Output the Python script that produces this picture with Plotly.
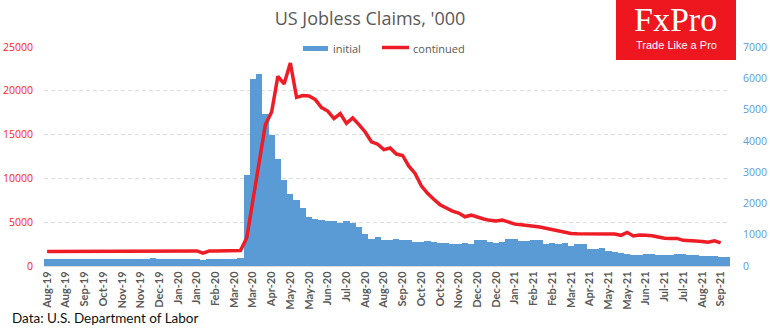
import pandas as pd
import plotly.graph_objects as go

# ---- data (thousands) ----
weeks = pd.date_range("2019-08-10", periods=110, freq="7D").strftime("%Y-%m-%d").tolist()

initial = [
    210, 210, 210, 210, 210, 210, 210, 210, 210, 210,
    210, 210, 210, 210, 210, 210, 210, 250, 210, 210,
    210, 210, 210, 210, 210, 180, 210, 210, 210, 210,
    210, 250, 2918, 5986, 6146, 4868, 4197, 3430, 2758, 2310,
    2118, 1854, 1566, 1512, 1457, 1448, 1426, 1390, 1450, 1374,
    1256, 1032, 872, 914, 840, 840, 872, 840, 840, 776,
    776, 808, 776, 744, 744, 712, 712, 744, 712, 840,
    840, 776, 744, 776, 872, 872, 808, 808, 840, 840,
    712, 750, 712, 744, 648, 712, 712, 553, 553, 585,
    485, 452, 415, 378, 355, 355, 393, 393, 361, 361,
    361, 393, 393, 361, 361, 329, 329, 329, 297, 297,
]

continued = [
    1650, 1650, 1650, 1650, 1650, 1650, 1650, 1650, 1650, 1650,
    1650, 1650, 1650, 1650, 1650, 1650, 1720, 1720, 1720, 1720,
    1720, 1720, 1720, 1720, 1720, 1480, 1720, 1720, 1720, 1720,
    1720, 1780, 3200, 7600, 12000, 16140, 17580, 21650, 20780, 23180,
    19250, 19450, 19400, 19000, 18080, 17690, 16820, 17400, 16280, 16900,
    16140, 15300, 14180, 13900, 13280, 13470, 12780, 12620, 11400, 10560,
    9150, 8300, 7620, 7000, 6620, 6260, 6050, 5620, 5800, 5550,
    5370, 5210, 5150, 5250, 4980, 4780, 4720, 4580, 4530, 4450,
    4300, 4100, 4020, 3820, 3720, 3690, 3680, 3670, 3670, 3660,
    3650, 3640, 3500, 3840, 3420, 3540, 3500, 3460, 3320, 3180,
    3150, 3150, 2930, 2850, 2850, 2800, 2720, 2880, 2630, None,
]

tick_labels = [
    "Aug-19", "Aug-19", "Sep-19", "Oct-19", "Nov-19", "Nov-19", "Dec-19",
    "Jan-20", "Jan-20", "Feb-20", "Mar-20", "Mar-20", "Apr-20", "May-20",
    "May-20", "Jun-20", "Jul-20", "Aug-20", "Aug-20", "Sep-20", "Oct-20",
    "Oct-20", "Nov-20", "Dec-20", "Dec-20", "Jan-21", "Feb-21", "Feb-21",
    "Mar-21", "Apr-21", "May-21", "May-21", "Jun-21", "Jul-21", "Jul-21",
    "Aug-21", "Sep-21",
]
tick_positions = weeks[::3]

left_ticks = [0, 5000, 10000, 15000, 20000, 25000]
right_ticks = [0, 1000, 2000, 3000, 4000, 5000, 6000, 7000]

BLUE = "#5B9BD5"
RED = "#EE1C25"
GREY = "#595959"

fig = go.Figure()
fig.add_trace(go.Bar(x=weeks, y=initial, name="initial", marker=dict(color=BLUE, line=dict(width=0)),
                     yaxis="y", showlegend=False))
fig.add_trace(go.Scatter(x=weeks, y=continued, name="continued", mode="lines",
                         line=dict(color=RED, width=3.5), yaxis="y2", showlegend=False,
                         connectgaps=False))

# grid lines at left-axis steps expressed on right axis scale
grid_vals = [v * 7000 / 25000 for v in left_ticks[1:]]

fig.update_layout(
    width=770, height=330,
    margin=dict(l=44, r=40, t=47, b=64, autoexpand=False),
    paper_bgcolor="white", plot_bgcolor="white",
    bargap=0,
    font=dict(family="Open Sans", color=GREY),
    title=dict(text="US Jobless Claims, '000", x=370 / 770, xref="container", xanchor="center",
               y=1 - 19 / 330, yref="container", yanchor="middle",
               font=dict(family="Open Sans", size=18, color=GREY)),
    xaxis=dict(type="category", tickmode="array", tickvals=tick_positions, ticktext=tick_labels,
               tickangle=-90, tickfont=dict(family="Lato", size=11, color=GREY, weight="bold"),
               showgrid=False, showline=True, linecolor="#D9D9D9", linewidth=1,
               ticks="", range=[-0.5, 109.5], automargin=False),
    yaxis=dict(side="right", range=[0, 7000], tickmode="array", tickvals=right_ticks, tickformat="d",
               tickfont=dict(family="Open Sans", size=10.5, color=BLUE), showgrid=False,
               zeroline=False, showline=False, ticklabelstandoff=12, automargin=False,
               minor=dict(tickmode="array", tickvals=grid_vals, showgrid=True,
                          gridcolor="#DEDEDE", griddash="4px,3px", gridwidth=1, ticks="")),
    yaxis2=dict(side="left", overlaying="y", range=[0, 25000], tickmode="array", tickvals=left_ticks,
                tickformat="d", automargin=False,
                tickfont=dict(family="Open Sans", size=10.5, color="#FF1A1A"), showgrid=False,
                zeroline=False, showline=False, ticklabelstandoff=10),
)

def px_x(p):
    return (p - 44) / 686

def px_y(p):
    return (266 - p) / 219

# manual legend
fig.add_shape(type="rect", xref="paper", yref="paper", x0=px_x(303), x1=px_x(328), y0=px_y(51), y1=px_y(46),
              fillcolor=BLUE, line=dict(width=0))
fig.add_annotation(text="initial", xref="paper", yref="paper", x=px_x(331), y=px_y(48), xanchor="left",
                   yanchor="middle", showarrow=False, font=dict(family="Open Sans", size=11, color=GREY))
fig.add_shape(type="line", xref="paper", yref="paper", x0=px_x(382), x1=px_x(409), y0=px_y(47.5), y1=px_y(47.5),
              line=dict(color=RED, width=3.5))
fig.add_annotation(text="continued", xref="paper", yref="paper", x=px_x(411), y=px_y(48), xanchor="left",
                   yanchor="middle", showarrow=False, font=dict(family="Open Sans", size=11, color=GREY))

# logo
fig.add_shape(type="rect", xref="paper", yref="paper", x0=px_x(616), x1=px_x(736), y0=px_y(60), y1=px_y(0),
              fillcolor="#EE161F", line=dict(width=0), layer="above")
fig.add_annotation(text="FxPro", xref="paper", yref="paper", x=px_x(675.5), y=px_y(19.5), xanchor="center",
                   yanchor="middle", showarrow=False,
                   font=dict(family="Liberation Serif", size=34, color="white"))
fig.add_annotation(text="Trade Like a Pro", xref="paper", yref="paper", x=px_x(676), y=px_y(45),
                   xanchor="center", yanchor="middle", showarrow=False,
                   font=dict(family="Liberation Sans", size=11, color="white"))

# source
fig.add_annotation(text="Data: U.S. Department of Labor", xref="paper", yref="paper", x=px_x(10), y=px_y(318),
                   xanchor="left", yanchor="middle", showarrow=False,
                   font=dict(family="Lato", size=13.5, color="#111111"))

fig.write_html("out.html")
